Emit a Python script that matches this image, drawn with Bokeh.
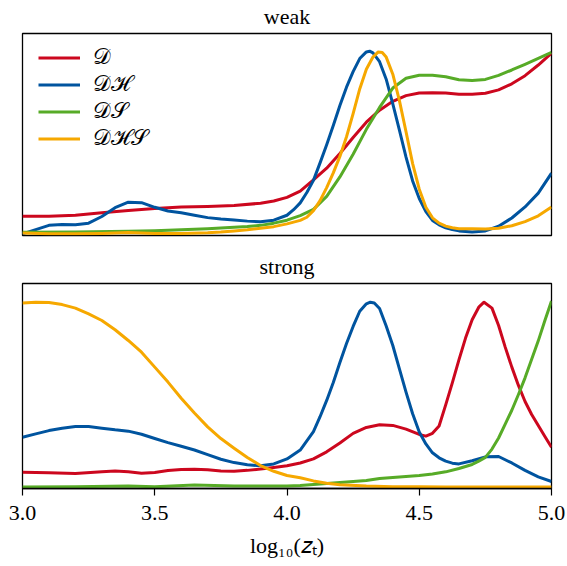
from bokeh.plotting import figure
from bokeh.layouts import column
from bokeh.models import Range1d, FixedTicker, PrintfTickFormatter, Legend, LegendItem
from bokeh.embed import file_html
from bokeh.resources import INLINE

# ---------------- data ----------------
# weak panel
x_weak_D = [3.0,3.1,3.2,3.3,3.4,3.5,3.6,3.7,3.8,3.9,3.95,4.0,4.05,4.1,4.15,4.2,4.25,4.3,4.35,4.4,4.45,4.5,4.55,4.6,4.65,4.7,4.75,4.8,4.85,4.9,4.95,5.0]
y_weak_D = [0.100,0.100,0.105,0.118,0.130,0.142,0.149,0.153,0.158,0.170,0.182,0.202,0.236,0.297,0.360,0.440,0.527,0.610,0.675,0.723,0.754,0.768,0.770,0.768,0.762,0.761,0.767,0.785,0.818,0.862,0.920,0.984]

x_weak_DH = [3.0,3.05,3.1,3.15,3.2,3.25,3.3,3.35,3.4,3.45,3.5,3.55,3.6,3.65,3.7,3.75,3.8,3.85,3.9,3.95,4.0,4.025,4.05,4.075,4.1,4.125,4.15,4.175,4.2,4.225,4.25,4.275,4.3,4.3125,4.325,4.35,4.375,4.4,4.425,4.45,4.475,4.5,4.525,4.55,4.575,4.6,4.625,4.65,4.7,4.75,4.8,4.85,4.9,4.95,5.0]
y_weak_DH = [0.004,0.027,0.050,0.055,0.053,0.062,0.098,0.146,0.176,0.173,0.148,0.128,0.118,0.105,0.092,0.084,0.079,0.073,0.070,0.078,0.105,0.135,0.172,0.228,0.294,0.389,0.487,0.592,0.700,0.800,0.884,0.955,0.991,0.995,0.986,0.938,0.843,0.709,0.567,0.420,0.291,0.196,0.125,0.077,0.053,0.037,0.027,0.020,0.014,0.020,0.045,0.090,0.150,0.225,0.333]

x_weak_DS = [3.0,3.2,3.4,3.5,3.6,3.7,3.8,3.85,3.9,3.95,4.0,4.05,4.1,4.15,4.2,4.25,4.3,4.35,4.4,4.45,4.5,4.55,4.6,4.65,4.7,4.75,4.8,4.85,4.9,4.95,5.0]
y_weak_DS = [0.012,0.014,0.018,0.021,0.026,0.032,0.040,0.044,0.050,0.062,0.078,0.103,0.137,0.207,0.313,0.436,0.571,0.690,0.795,0.848,0.864,0.865,0.856,0.840,0.836,0.842,0.864,0.893,0.924,0.956,0.989]

x_weak_DHS = [3.0,3.1,3.2,3.3,3.4,3.5,3.6,3.7,3.75,3.8,3.85,3.9,3.95,4.0,4.05,4.075,4.1,4.125,4.15,4.175,4.2,4.225,4.25,4.275,4.3,4.325,4.345,4.36,4.375,4.4,4.425,4.45,4.475,4.5,4.525,4.55,4.575,4.6,4.625,4.65,4.7,4.75,4.8,4.85,4.9,4.95,5.0]
y_weak_DHS = [0.008,0.004,0.004,0.006,0.011,0.006,0.006,0.010,0.014,0.020,0.026,0.034,0.043,0.058,0.077,0.094,0.130,0.184,0.255,0.335,0.424,0.531,0.656,0.790,0.897,0.963,0.991,0.988,0.963,0.870,0.727,0.558,0.385,0.246,0.148,0.091,0.062,0.046,0.037,0.032,0.031,0.030,0.034,0.048,0.070,0.102,0.150]

# strong panel
x_strong_D = [3.0,3.1,3.2,3.3,3.35,3.4,3.45,3.5,3.55,3.6,3.65,3.7,3.75,3.8,3.85,3.9,3.95,4.0,4.05,4.1,4.15,4.2,4.25,4.3,4.35,4.4,4.45,4.5,4.525,4.55,4.575,4.6,4.625,4.65,4.675,4.7,4.725,4.745,4.775,4.8,4.825,4.85,4.875,4.9,4.925,4.95,4.975,5.0]
y_strong_D = [0.080,0.077,0.073,0.082,0.086,0.082,0.075,0.078,0.089,0.095,0.096,0.093,0.087,0.085,0.090,0.097,0.106,0.115,0.130,0.152,0.190,0.238,0.290,0.322,0.337,0.333,0.313,0.284,0.275,0.290,0.330,0.444,0.563,0.687,0.805,0.904,0.972,0.999,0.967,0.873,0.756,0.648,0.549,0.462,0.392,0.332,0.273,0.215]

x_strong_DH = [3.0,3.05,3.1,3.15,3.2,3.25,3.3,3.35,3.4,3.45,3.5,3.55,3.6,3.65,3.7,3.75,3.8,3.85,3.9,3.95,4.0,4.05,4.1,4.125,4.15,4.175,4.2,4.225,4.25,4.275,4.3,4.315,4.33,4.35,4.375,4.4,4.425,4.45,4.475,4.5,4.525,4.55,4.575,4.6,4.625,4.65,4.7,4.75,4.8,4.85,4.9,4.95,5.0]
y_strong_DH = [0.269,0.287,0.305,0.318,0.327,0.327,0.318,0.309,0.302,0.285,0.262,0.240,0.220,0.200,0.175,0.150,0.132,0.120,0.115,0.125,0.152,0.200,0.300,0.380,0.468,0.565,0.673,0.776,0.868,0.950,0.990,0.999,0.995,0.965,0.870,0.765,0.639,0.513,0.396,0.297,0.233,0.185,0.158,0.140,0.129,0.125,0.142,0.163,0.165,0.130,0.090,0.055,0.030]

x_strong_DS = [3.0,3.2,3.4,3.5,3.65,3.8,4.0,4.05,4.1,4.2,4.3,4.35,4.4,4.45,4.5,4.55,4.6,4.65,4.7,4.725,4.75,4.775,4.8,4.825,4.85,4.875,4.9,4.925,4.95,4.975,5.0]
y_strong_DS = [0.000,0.001,0.006,0.002,0.011,0.006,0.006,0.008,0.014,0.024,0.035,0.046,0.052,0.057,0.062,0.070,0.082,0.100,0.122,0.140,0.160,0.205,0.265,0.340,0.415,0.500,0.590,0.690,0.790,0.900,1.005]

x_strong_DHS = [3.0,3.05,3.1,3.15,3.2,3.25,3.3,3.35,3.4,3.45,3.5,3.55,3.6,3.65,3.7,3.75,3.8,3.85,3.9,3.95,4.0,4.05,4.1,4.15,4.2,4.3,4.4,4.5,4.6,4.8,5.0]
y_strong_DHS = [0.994,0.999,0.997,0.986,0.967,0.936,0.900,0.850,0.792,0.729,0.648,0.567,0.480,0.400,0.325,0.262,0.210,0.160,0.116,0.085,0.062,0.050,0.033,0.020,0.012,0.005,0.002,0.001,0.000,0.000,0.000]

labels = ["\U0001D49F", "\U0001D49F\u210B", "\U0001D49F\U0001D4AE", "\U0001D49F\u210B\U0001D4AE"]
colors = ["#CC071E", "#00549F", "#57AB27", "#F6A800"]
x_ticks = [3.0, 3.5, 4.0, 4.5, 5.0]

FONT = "Liberation Serif"
FS = "22px"


def make_fig(title, height, top_border, bottom_border, yr, show_x):
    p = figure(width=567, height=height, x_range=Range1d(3.0, 5.0), y_range=Range1d(*yr),
               output_backend="svg", toolbar_location=None,
               x_axis_location="below" if show_x else None, y_axis_location=None,
               min_border_left=22, min_border_right=16,
               min_border_top=top_border, min_border_bottom=bottom_border)
    p.title.text = title
    p.title.align = "center"
    p.title.vertical_align = "top"
    p.title.text_font = FONT
    p.title.text_font_size = FS
    p.title.text_font_style = "normal"
    p.title.text_color = "black"
    p.title.standoff = 6
    p.title.text_line_height = 1.0
    p.outline_line_color = "black"
    p.outline_line_width = 1.3
    p.outline_line_alpha = 1.0
    p.background_fill_color = "white"
    p.border_fill_color = "white"
    p.grid.grid_line_color = None
    return p


top = make_fig("weak", 246, 30, 11, (-0.005, 1.091), False)
bot = make_fig("strong", 320, 37, 78, (-0.008, 1.100), True)

weak = [(x_weak_D, y_weak_D), (x_weak_DH, y_weak_DH), (x_weak_DS, y_weak_DS), (x_weak_DHS, y_weak_DHS)]
strong = [(x_strong_D, y_strong_D), (x_strong_DH, y_strong_DH), (x_strong_DS, y_strong_DS), (x_strong_DHS, y_strong_DHS)]

items = []
for (xs, ys), c, lab in zip(weak, colors, labels):
    r = top.line(xs, ys, line_color=c, line_width=3, line_join="round")
    items.append(LegendItem(label=lab, renderers=[r]))
for (xs, ys), c in zip(strong, colors):
    bot.line(xs, ys, line_color=c, line_width=3, line_join="round")

leg = Legend(items=items, location=(10, 78))
leg.border_line_alpha = 0
leg.background_fill_alpha = 0
leg.glyph_width = 42
leg.glyph_height = 25
leg.label_height = 25
leg.spacing = 1
leg.margin = 0
leg.padding = 6
leg.label_standoff = 13
leg.label_text_font = FONT
leg.label_text_font_size = FS
leg.label_text_color = "black"
top.add_layout(leg)

ax = bot.xaxis[0]
ax.ticker = FixedTicker(ticks=x_ticks)
ax.formatter = PrintfTickFormatter(format="%.1f")
ax.minor_tick_line_color = None
ax.major_tick_out = 7
ax.major_tick_in = 0
ax.major_tick_line_color = "black"
ax.major_tick_line_width = 1.2
ax.axis_line_color = "black"
ax.axis_line_width = 1.3
ax.major_label_text_font = FONT
ax.major_label_text_font_size = FS
ax.major_label_text_color = "black"
ax.major_label_standoff = 10
ax.axis_label = "log\u2081\u2080(\U0001D467\u209C)"
ax.axis_label_text_font = FONT
ax.axis_label_text_font_size = FS
ax.axis_label_text_font_style = "normal"
ax.axis_label_text_color = "black"
ax.axis_label_standoff = 10

layout = column(top, bot, spacing=0)
open("out.html", "w").write(file_html(layout, INLINE))
